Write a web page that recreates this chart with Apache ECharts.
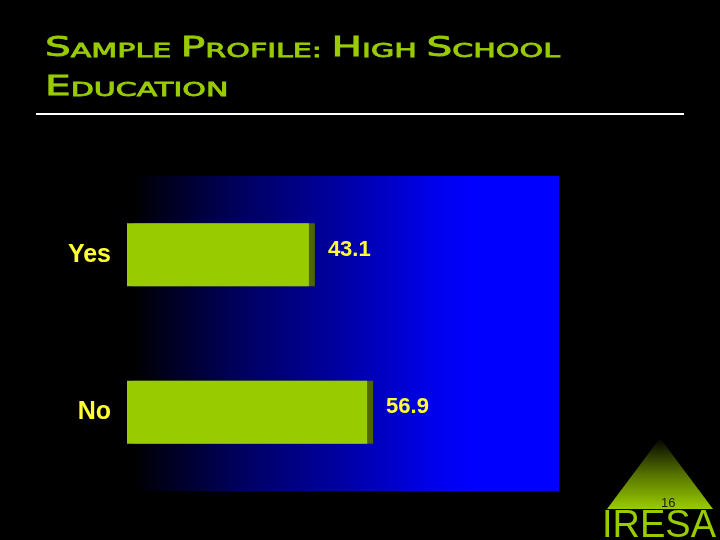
<!DOCTYPE html>
<html>
<head>
<meta charset="utf-8">
<script src="https://cdn.jsdelivr.net/npm/echarts@6/dist/echarts.min.js"></script>
<style>
html,body{margin:0;padding:0;background:#000;}
#chart{width:720px;height:540px;}
</style>
</head>
<body>
<div id="chart"></div>
<script>
const categories = ['Yes', 'No'];
const values = [43.1, 56.9];
const titleLine1 = [['S','AMPLE'],['P','ROFILE:'],['H','IGH'],['S','CHOOL']];
const titleLine2 = [['E','DUCATION']];
const pageNumber = '16';
const logoText = 'IRESA';

function smallCaps(words) {
  return words.map(w => '{b|' + w[0] + '}{s|' + w[1] + '}').join('{s| }');
}

const titleFont = 'DejaVu Sans';
const bigSize = 27, smallSize = 20, titleWeight = 'normal';
const titleRich = {
  b: { fontSize: bigSize, fontWeight: titleWeight, fontFamily: titleFont, fill: '#99cc00', stroke: '#99cc00', lineWidth: 0.8, verticalAlign: 'bottom', lineHeight: 27 },
  s: { fontSize: smallSize, fontWeight: titleWeight, fontFamily: titleFont, fill: '#99cc00', stroke: '#99cc00', lineWidth: 0.8, verticalAlign: 'bottom', lineHeight: 27 }
};

// measure natural width of line 1 to stretch it like the wide original typeface
const ctx = document.createElement('canvas').getContext('2d');
function lineWidth(words) {
  let w = 0;
  words.forEach((wd, i) => {
    ctx.font = titleWeight + ' ' + bigSize + 'px "' + titleFont + '"';
    w += ctx.measureText(wd[0]).width;
    ctx.font = titleWeight + ' ' + smallSize + 'px "' + titleFont + '"';
    w += ctx.measureText(wd[1]).width;
    if (i < words.length - 1) w += ctx.measureText(' ').width;
  });
  return w;
}
const stretch = 515 / lineWidth(titleLine1);

const chart = echarts.init(document.getElementById('chart'));
chart.setOption({
  backgroundColor: '#000000',
  animation: false,
  grid: { left: 127, top: 176, width: 422, height: 315 },
  xAxis: { type: 'value', min: 0, max: 100, show: false },
  yAxis: {
    type: 'category', data: categories, inverse: true,
    axisLine: { show: false }, axisTick: { show: false }, splitLine: { show: false },
    axisLabel: { color: '#ffff33', fontSize: 25, fontWeight: 'bold', fontFamily: 'Liberation Sans', margin: 16 }
  },
  series: [{
    type: 'bar', data: values, barWidth: 63, z: 5,
    itemStyle: { color: '#99cc00', shadowColor: '#4f6600', shadowOffsetX: 6, shadowOffsetY: 0, shadowBlur: 0 },
    label: {
      show: true, position: 'right', distance: 19, offset: [0, -5],
      color: '#ffff33', fontSize: 22, fontWeight: 'bold', fontFamily: 'Liberation Sans',
      formatter: p => p.value.toFixed(1)
    }
  }],
  graphic: [
    { type: 'rect', z: -10, shape: { x: 137, y: 176, width: 422, height: 315 },
      style: { fill: new echarts.graphic.LinearGradient(0, 0, 1, 0, [
        { offset: 0, color: '#000005' },
        { offset: 0.25, color: '#000060' },
        { offset: 0.5, color: '#0000a8' },
        { offset: 0.72, color: '#0000f0' },
        { offset: 0.8, color: '#0000ff' },
        { offset: 1, color: '#0000ff' }
      ]) } },
    { type: 'text', x: 45, y: 35, scaleX: stretch, style: { text: smallCaps(titleLine1), fill: '#99cc00', rich: titleRich, align: 'left', verticalAlign: 'top' } },
    { type: 'text', x: 45, y: 74, scaleX: stretch, style: { text: smallCaps(titleLine2), fill: '#99cc00', rich: titleRich, align: 'left', verticalAlign: 'top' } },
    { type: 'line', shape: { x1: 36, y1: 114, x2: 684, y2: 114 }, style: { stroke: '#ffffff', lineWidth: 2 } },
    { type: 'polygon', shape: { points: [[660, 438], [607, 509], [713, 509]] },
      style: { fill: new echarts.graphic.LinearGradient(0, 0, 0, 1, [
        { offset: 0, color: '#000000' },
        { offset: 0.55, color: '#5c7a00' },
        { offset: 1, color: '#99cc00' }
      ]) } },
    { type: 'text', left: 661, top: 497, style: { text: pageNumber, fill: '#222200', fontSize: 13, fontFamily: 'Liberation Sans' } },
    { type: 'text', left: 602, top: 508, style: { text: logoText, fill: '#99cc00', fontSize: 38, fontFamily: 'Liberation Sans' } }
  ]
});
</script>
</body>
</html>
